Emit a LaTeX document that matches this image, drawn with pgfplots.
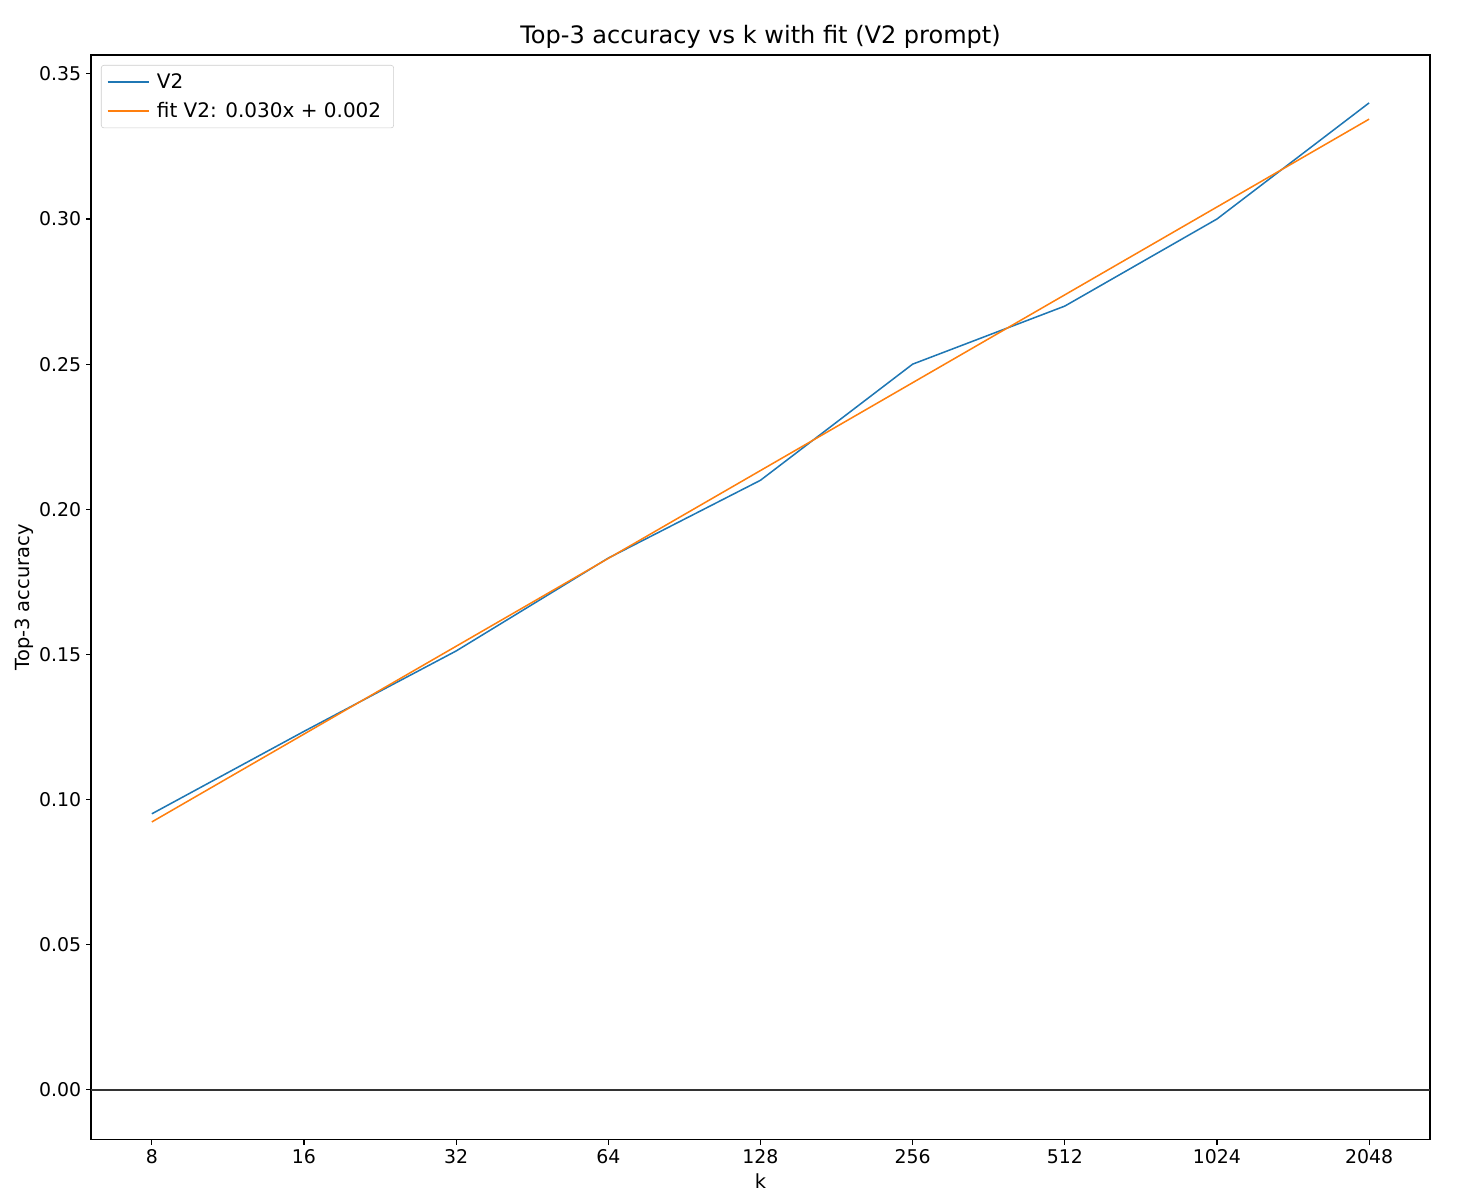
\documentclass[border=0pt]{standalone}
\usepackage{pgfplots}
\pgfplotsset{compat=1.18}
\usepackage{fontspec}
\setmainfont{DejaVu Sans}

\definecolor{tabblue}{HTML}{1F77B4}
\definecolor{taborange}{HTML}{FF7F0E}

\begin{document}
\begin{tikzpicture}
\begin{axis}[
  scale only axis,
  width=964pt, height=781pt,
  xmin=2.6, xmax=11.4,
  ymin=-0.0172, ymax=0.3565,
  xtick={3,4,5,6,7,8,9,10,11},
  xticklabels={8,16,32,64,128,256,512,1024,2048},
  ytick={0,0.05,0.1,0.15,0.2,0.25,0.3,0.35},
  yticklabel style={/pgf/number format/.cd, fixed, fixed zerofill, precision=2},
  /pgf/number format/assume math mode=true,
  tick align=outside, tick pos=lower,
  major tick length=3.5pt,
  every tick/.style={black, line width=0.8pt},
  axis line style={line width=0.8pt},
  ticklabel style={font=\fontsize{13.6}{16}\selectfont},
  xlabel={k}, ylabel={Top-3 accuracy},
  label style={font=\fontsize{14}{17}\selectfont},
  ylabel style={yshift=-3pt},
  title={Top-3 accuracy vs k with fit (V2 prompt)},
  title style={font=\fontsize{17.3}{20}\selectfont, yshift=-5pt},
  legend cell align=left,
  legend style={at={(rel axis cs:0,1)}, anchor=north west, xshift=7.2pt, yshift=-7.2pt,
    draw=black!20, rounded corners=2pt, font=\fontsize{14.4}{17}\selectfont,
    inner sep=4pt, row sep=4.5pt,
    nodes={inner xsep=5pt}},
  legend image code/.code={\draw[#1] (0cm,0cm) -- (30pt,0cm);},
]
\addplot[tabblue, line width=1.1pt] coordinates {
  (3,0.0951) (4,0.1235) (5,0.1512) (6,0.1832) (7,0.2100)
  (8,0.2500) (9,0.2700) (10,0.3000) (11,0.3400)
};
\addlegendentry{V2}
\addplot[taborange, line width=1.1pt] coordinates {
  (3,0.0923) (11,0.3344)
};
\addlegendentry{fit V2: 0.030x + 0.002}
\addplot[black!80, line width=1.1pt, forget plot] coordinates {(2.6,0) (11.4,0)};
\coordinate (sw) at (rel axis cs:0,0);
\coordinate (ne) at (rel axis cs:1,1);
\end{axis}
\pgfresetboundingbox
\path[use as bounding box] ([shift={(-65.5pt,-39.6pt)}]sw) rectangle ([shift={(24.5pt,39.6pt)}]ne);
\end{tikzpicture}
\end{document}
